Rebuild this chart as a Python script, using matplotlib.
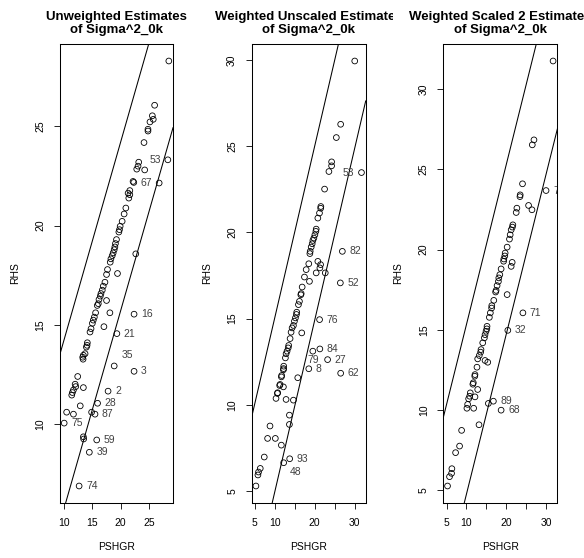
import matplotlib.pyplot as plt
from matplotlib.transforms import Bbox, TransformedBbox

plt.rcParams['font.family'] = ['Liberation Sans', 'DejaVu Sans']

# ---- panel 1: unweighted estimates (labelled points first) ----
unw_labels = ["53", "67", "16", "21", "35", "3", "2", "28", "87", "75", "59", "39", "74"]
unw_x = [28.33, 26.8, 22.38, 19.35, 18.88, 22.38, 17.8, 15.95, 15.5, 10.07, 15.8, 14.5, 12.7,
         28.5, 26.0, 25.6, 25.76, 25.18, 24.83, 24.83, 24.13, 23.2, 23.08, 22.85, 24.25, 22.2,
         22.33, 21.63, 21.33, 21.63, 21.45, 20.93, 20.63, 20.28, 19.93, 19.81, 19.7, 19.28, 19.1,
         19.0, 18.88, 18.7, 18.53, 18.3, 18.18, 22.68, 17.7, 17.53, 19.46, 17.25, 16.95, 16.78,
         16.55, 16.43, 16.2, 16.08, 15.9, 17.53, 15.6, 15.38, 15.2, 15.03, 14.8, 14.62, 18.12,
         17.07, 14.15, 14.1, 13.98, 13.75, 13.45, 13.33, 13.4, 12.45, 12.0, 12.1, 13.45, 11.7,
         11.52, 11.4, 12.9, 10.5, 11.7, 14.9, 13.45, 13.5]
unw_y = [23.32, 22.15, 15.54, 14.56, 12.93, 12.66, 11.66, 11.05, 10.5, 10.05, 9.2, 8.58, 6.88,
         28.3, 26.07, 25.54, 25.36, 25.23, 24.86, 24.77, 24.19, 23.2, 23.0, 22.85, 22.81, 22.23,
         22.18, 21.77, 21.64, 21.56, 21.39, 20.89, 20.59, 20.22, 19.97, 19.8, 19.68, 19.3, 19.1,
         18.93, 18.79, 18.63, 18.49, 18.33, 18.16, 18.58, 17.79, 17.54, 17.59, 17.15, 16.95, 16.75,
         16.58, 16.45, 16.28, 16.07, 15.98, 16.23, 15.61, 15.39, 15.24, 15.08, 14.81, 14.64, 15.61,
         14.91, 14.1, 13.97, 13.88, 13.55, 13.47, 13.37, 13.27, 12.4, 12.01, 11.89, 11.84, 11.72,
         11.59, 11.46, 10.92, 10.6, 10.5, 10.6, 9.36, 9.25]
unw_band = [4.2, -4.3]

# ---- panel 2: weighted unscaled estimates ----
wun_labels = ["53", "82", "52", "76", "84", "79", "27", "8", "62", "93", "48"]
wun_x = [31.67, 26.9, 26.4, 21.22, 21.29, 19.54, 23.22, 18.53, 26.48, 13.77, 12.27,
         29.99, 26.48, 25.4, 24.22, 24.22, 23.55, 22.47, 21.54, 21.5, 21.2, 20.79, 20.38, 20.3,
         20.05, 19.8, 19.55, 19.38, 19.13, 18.88, 18.8, 18.53, 20.79, 21.47, 21.3, 20.38, 17.88,
         22.64, 17.45, 18.7, 16.88, 16.63, 16.55, 16.2, 15.95, 15.53, 15.45, 15.2, 14.95, 14.7,
         14.37, 14.12, 16.78, 13.87, 13.52, 13.4, 13.12, 12.87, 12.7, 12.28, 12.25, 12.2, 11.77,
         11.7, 15.78, 11.37, 11.27, 12.2, 10.77, 10.7, 10.36, 12.87, 14.7, 13.7, 13.7, 8.86,
         8.26, 10.19, 11.69, 7.43, 6.43, 6.0, 5.85, 5.35]
wun_y = [23.47, 18.9, 17.07, 14.94, 13.24, 13.11, 12.62, 12.09, 11.83, 6.87, 6.64,
         29.94, 26.27, 25.5, 24.09, 23.86, 23.53, 22.51, 21.5, 21.4, 21.12, 20.83, 20.19, 20.06,
         19.86, 19.67, 19.53, 19.34, 19.15, 18.9, 18.77, 18.18, 18.32, 18.13, 17.94, 17.65, 17.84,
         17.65, 17.41, 17.16, 16.83, 16.45, 16.38, 16.0, 15.81, 15.37, 15.24, 15.04, 14.85, 14.6,
         14.46, 14.21, 14.17, 13.84, 13.44, 13.3, 13.11, 12.96, 12.72, 12.24, 12.1, 12.03, 11.7,
         11.62, 11.57, 11.18, 11.12, 11.04, 10.7, 10.66, 10.37, 10.31, 10.27, 9.4, 8.86, 8.77,
         8.05, 8.05, 7.66, 6.97, 6.31, 6.1, 5.93, 5.29]
wun_band = [5.0, -5.1]

# ---- panel 3: weighted scaled 2 estimates ----
wsc_labels = ["72", "71", "32", "89", "68"]
wsc_x = [29.94, 24.14, 20.36, 16.74, 18.68,
         31.7, 26.91, 26.49, 24.04, 23.46, 23.4, 25.56, 26.41, 22.63, 22.46, 21.62, 21.5, 21.2,
         20.95, 20.77, 20.19, 19.69, 19.6, 19.36, 19.3, 21.45, 21.2, 18.68, 18.35, 18.1, 18.0,
         17.67, 17.42, 17.3, 20.19, 16.84, 16.34, 16.3, 15.98, 15.73, 15.15, 15.1, 14.9, 14.65,
         14.48, 14.07, 13.64, 13.55, 13.21, 12.81, 14.65, 15.33, 12.63, 12.13, 12.08, 11.71,
         11.6, 12.81, 10.95, 10.8, 12.13, 10.54, 10.29, 10.11, 11.8, 15.48, 13.14, 8.78, 8.27,
         7.27, 6.34, 6.26, 5.75, 5.25]
wsc_y = [23.68, 16.05, 14.96, 10.54, 9.98,
         31.76, 26.84, 26.53, 24.1, 23.41, 23.3, 22.75, 22.48, 22.58, 22.31, 21.54, 21.4, 21.23,
         20.92, 20.65, 20.15, 19.78, 19.6, 19.41, 19.27, 19.2, 18.95, 18.79, 18.43, 18.23, 18.01,
         17.75, 17.45, 17.35, 17.19, 16.83, 16.5, 16.35, 16.05, 15.77, 15.21, 15.05, 14.9, 14.69,
         14.49, 14.18, 13.76, 13.6, 13.39, 13.18, 13.08, 12.97, 12.66, 12.2, 12.1, 11.69,
         11.6, 11.27, 11.06, 10.85, 10.81, 10.69, 10.34, 10.1, 10.1, 10.4, 9.07, 8.72, 7.74,
         7.33, 6.33, 6.04, 5.83, 5.25]
wsc_band = [5.33, -5.25]

titles = ["Unweighted Estimates\nof Sigma^2_0k",
          "Weighted Unscaled Estimates\nof Sigma^2_0k",
          "Weighted Scaled 2 Estimates\nof Sigma^2_0k"]
xtick_vals = [[10, 15, 20, 25], [5, 10, 15, 20, 25, 30], [5, 10, 15, 20, 25, 30]]
xtick_text = [["10", "15", "20", "25"], ["5", "10", "", "20", "", "30"],
              ["5", "10", "", "20", "", "30"]]
ytick_vals = [[10, 15, 20, 25], [5, 10, 15, 20, 25, 30], [5, 10, 15, 20, 25, 30]]

W, H = 584, 558
fig = plt.figure(figsize=(W / 100, H / 100), dpi=100)

# layout in pixels (left, right) of each plot box; top / bottom shared
boxes = [(60, 173), (251.7, 365.7), (443.3, 557.3)]
top, bottom = 44, 503
title_clip = [195, 393, W]

# special label placement (dx pt, dy pt, ha)
label_pos = {
    (0, "53"): (-5, 0, "right"), (0, "67"): (-5, 0, "right"),
    (0, "35"): (5.5, 7.7, "left"),
    (1, "53"): (-5, 0, "right"),
    (1, "79"): (0, -6.3, "center"), (1, "48"): (4.3, -6.5, "left"),
}

data = [(unw_x, unw_y, unw_labels, unw_band),
        (wun_x, wun_y, wun_labels, wun_band),
        (wsc_x, wsc_y, wsc_labels, wsc_band)]

for i, (xs, ys, labs, band) in enumerate(data):
    l, r = boxes[i]
    ax = fig.add_axes([l / W, (H - bottom) / H, (r - l) / W, (bottom - top) / H])
    ax.scatter(xs, ys, s=17, facecolors='none', edgecolors='black', linewidths=0.6, zorder=3)
    ax.margins(0.04)
    ax.autoscale_view()
    xl, yl = ax.get_xlim(), ax.get_ylim()
    for b in band:
        ax.axline((0, b), slope=1, color='black', lw=0.75)
    ax.set_xlim(xl)
    ax.set_ylim(yl)
    for j, lab in enumerate(labs):
        dx, dy, ha = label_pos.get((i, lab), (5, 0, "left"))
        ax.annotate(lab, (xs[j], ys[j]), xytext=(dx, dy), textcoords='offset points',
                    ha=ha, va='center', fontsize=7.5, color='#404040', clip_on=True)

    ax.set_xticks(xtick_vals[i])
    ax.set_xticklabels(xtick_text[i])
    ax.set_yticks(ytick_vals[i])
    ax.tick_params(length=4.5, width=0.6, pad=6, labelsize=7.5, direction='out')
    for t in ax.get_yticklabels():
        t.set_rotation(90)
        t.set_va('center')
    for s in ax.spines.values():
        s.set_linewidth(0.75)

    ax.set_xlabel("PSHGR", fontsize=7.5, va='center')
    ax.xaxis.set_label_coords(0.5, -43.7 / (bottom - top))
    ax.set_ylabel("RHS", fontsize=7.5, va='center')
    ax.yaxis.set_label_coords(-45 / (r - l), 0.5)

    t = ax.set_title(titles[i], fontsize=9.5, fontweight='bold', pad=8, linespacing=1.1)
    t.set_clip_box(TransformedBbox(Bbox([[0, 0], [title_clip[i] / W, 1]]), fig.transFigure))
    t.set_clip_on(True)

fig.savefig("out.png", dpi=100)
